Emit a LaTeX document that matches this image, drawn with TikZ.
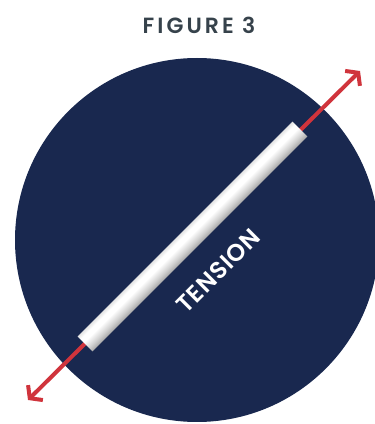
\documentclass[tikz,border=0pt]{standalone}
\usepackage{fontspec}
\setmainfont{Poppins}[BoldFont={Poppins SemiBold}]
\usetikzlibrary{arrows.meta, positioning, shapes.geometric}
\definecolor{navy}{HTML}{19284F}
\definecolor{pullred}{HTML}{D0343C}
\definecolor{titlegray}{HTML}{36424B}
\pgfdeclareverticalshading{rodshade}{100bp}{color(0bp)=(gray!70); color(25bp)=(gray!70); color(38bp)=(gray!35); color(55bp)=(white); color(66bp)=(white); color(75bp)=(gray!20); color(100bp)=(gray!20)}

\begin{document}
\begin{tikzpicture}[x=1pt, y=1pt, every node/.style={font=\bfseries, inner sep=0pt}]
    \clip (0,0) rectangle (375,424);
    % Nodes
    \node[text=titlegray, font=\bfseries\fontsize{22}{22}\selectfont\addfontfeature{LetterSpace=14}] (title) at (199,399) {FIGURE 3};
    \node[circle, fill=navy, minimum size=364] (disc) at (197,184) {};
    \coordinate (pullSW) at (28,24);
    \coordinate (pullNE) at (360,353);

    % Pulling arrow behind the rod
    \draw[pullred, line width=4, {Straight Barb[length=8, width=21]}-{Straight Barb[length=8, width=21]}] (pullSW) -- (pullNE);

    % Rod (canvas turned so the shading runs across it) and label
    \begin{scope}[transform canvas={shift={(192.5,187.5)}, rotate=45}]
        \node[minimum width=304, minimum height=21, shade, shading=rodshade] (rod) at (0,0) {};
    \end{scope}
    \node[rotate=45, text=white, font=\bfseries\fontsize{24}{24}\selectfont\addfontfeature{LetterSpace=3}] (tag) at (218,153) {TENSION};
\end{tikzpicture}
\end{document}
